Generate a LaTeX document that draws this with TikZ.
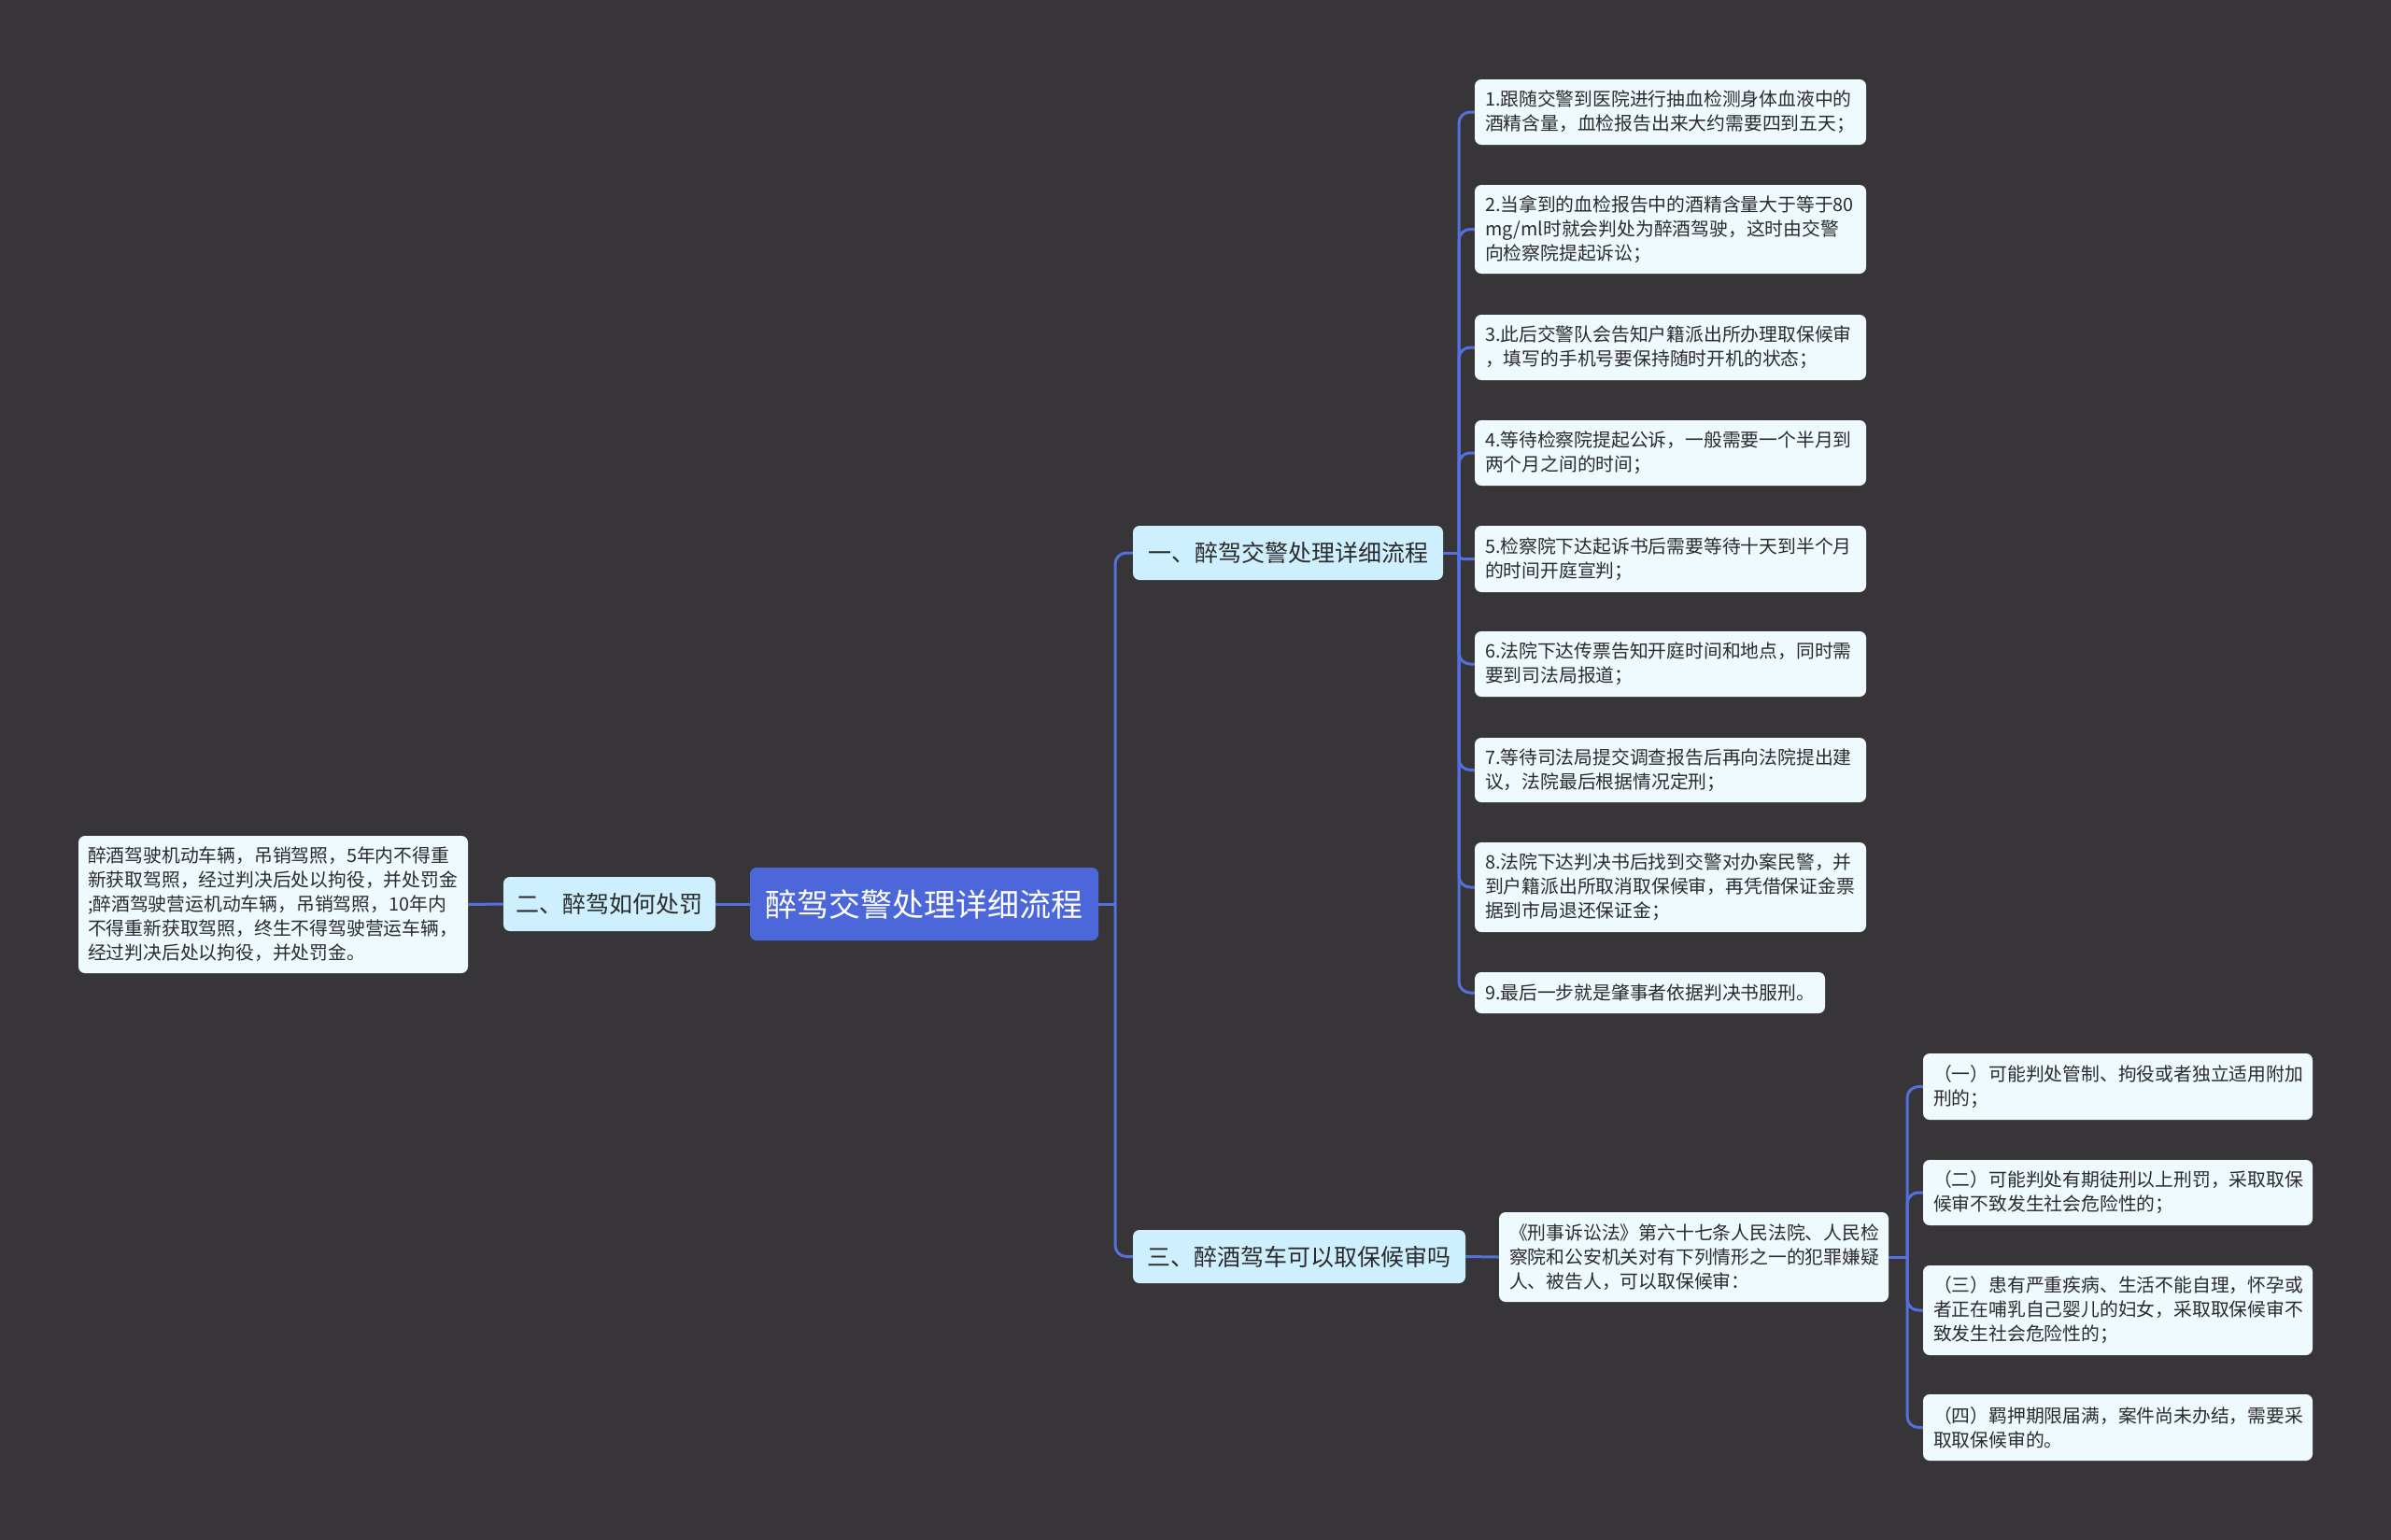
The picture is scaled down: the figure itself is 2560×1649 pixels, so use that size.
\documentclass[tikz,border=0pt]{standalone}
\usepackage{fontspec}
\newfontfamily\cjk{Noto Sans CJK SC}
\definecolor{bgc}{HTML}{373537}
\definecolor{linec}{HTML}{5470DE}
\definecolor{rootc}{HTML}{4C67DA}
\definecolor{branchc}{HTML}{CDEFFE}
\definecolor{leafc}{HTML}{EFFAFE}
\definecolor{txtc}{HTML}{2B2B2B}
\tikzset{
  conn/.style={draw=linec, line width=3pt},
  rootbox/.style={fill=rootc, rounded corners=7pt, text=white, inner sep=0pt,
    font=\cjk\fontsize{34}{40}\selectfont},
  branchbox/.style={fill=branchc, rounded corners=7pt, text=txtc, inner sep=0pt,
    font=\cjk\fontsize{25}{30}\selectfont},
  leafbox/.style={fill=leafc, rounded corners=7pt, text=txtc, inner xsep=11pt, inner ysep=0pt,
    align=left, font=\cjk\fontsize{19.8}{26}\selectfont},
}
\newcommand{\leafnode}[6]{% name, cx, cy, w, h, text
  \node[leafbox, minimum width=#4pt, minimum height=#5pt, text width=#4pt-20pt] (#1) at (#2,#3) {#6};}
\begin{document}
\begin{tikzpicture}[x=1pt, y=-1pt]
\useasboundingbox (0,0) rectangle (2560,1649);
\fill[bgc] (0,0) rectangle (2560,1649);

% root and branches
\node[rootbox, minimum width=373pt, minimum height=78pt] (root) at (989.5,968) {醉驾交警处理详细流程};
\node[branchbox, minimum width=227pt, minimum height=58pt] (b2) at (652.5,968) {二、醉驾如何处罚};
\node[branchbox, minimum width=332pt, minimum height=58pt] (b1) at (1379,592) {一、醉驾交警处理详细流程};
\node[branchbox, minimum width=356pt, minimum height=57pt] (b3) at (1391,1345.5) {三、醉酒驾车可以取保候审吗};

% left text
\node[leafbox, inner xsep=10pt, minimum width=415pt, minimum height=147pt, text width=397pt] (lt) at (292.5,968.5)
 {醉酒驾驶机动车辆，吊销驾照，5年内不得重\\新获取驾照，经过判决后处以拘役，并处罚金\\;醉酒驾驶营运机动车辆，吊销驾照，10年内\\不得重新获取驾照，终生不得驾驶营运车辆，\\经过判决后处以拘役，并处罚金。};

% leaves of branch 1
\leafnode{L1}{1788.5}{120}{417}{70}{1.跟随交警到医院进行抽血检测身体血液中的\\酒精含量，血检报告出来大约需要四到五天；}
\leafnode{L2}{1788.5}{245.5}{417}{95}{2.当拿到的血检报告中的酒精含量大于等于80\\mg/ml时就会判处为醉酒驾驶，这时由交警\\向检察院提起诉讼；}
\leafnode{L3}{1788.5}{372}{417}{70}{3.此后交警队会告知户籍派出所办理取保候审\\，填写的手机号要保持随时开机的状态；}
\leafnode{L4}{1788.5}{485}{417}{70}{4.等待检察院提起公诉，一般需要一个半月到\\两个月之间的时间；}
\leafnode{L5}{1788.5}{598.5}{417}{71}{5.检察院下达起诉书后需要等待十天到半个月\\的时间开庭宣判；}
\leafnode{L6}{1788.5}{711}{417}{70}{6.法院下达传票告知开庭时间和地点，同时需\\要到司法局报道；}
\leafnode{L7}{1788.5}{824.5}{417}{69}{7.等待司法局提交调查报告后再向法院提出建\\议，法院最后根据情况定刑；}
\leafnode{L8}{1788.5}{950}{417}{96}{8.法院下达判决书后找到交警对办案民警，并\\到户籍派出所取消取保候审，再凭借保证金票\\据到市局退还保证金；}
\leafnode{L9}{1766.5}{1063}{373}{44}{9.最后一步就是肇事者依据判决书服刑。}

% branch 3 child and sub-leaves
\leafnode{C3}{1813.5}{1346}{415}{96}{《刑事诉讼法》第六十七条人民法院、人民检\\察院和公安机关对有下列情形之一的犯罪嫌疑\\人、被告人，可以取保候审：}
\leafnode{S1}{2267.5}{1163.5}{415}{71}{（一）可能判处管制、拘役或者独立适用附加\\刑的；}
\leafnode{S2}{2267.5}{1277}{415}{70}{（二）可能判处有期徒刑以上刑罚，采取取保\\候审不致发生社会危险性的；}
\leafnode{S3}{2267.5}{1403}{415}{96}{（三）患有严重疾病、生活不能自理，怀孕或\\者正在哺乳自己婴儿的妇女，采取取保候审不\\致发生社会危险性的；}
\leafnode{S4}{2267.5}{1528.5}{415}{71}{（四）羁押期限届满，案件尚未办结，需要采\\取取保候审的。}

% junction coordinates
\coordinate (j0) at (1194,968);
\coordinate (j1) at (1562,592);
\coordinate (j3) at (2042,1346);

% connectors
\draw[conn] (root.west) -- (b2.east);
\draw[conn] (b2.west) -- (lt.east);
\draw[conn] (root.east) -- (j0);
\draw[conn, rounded corners=12pt] (j0) |- (b1.west);
\draw[conn, rounded corners=12pt] (j0) |- (b3.west);
\draw[conn] (b1.east) -- (j1);
\foreach \n in {L1,L2,L3,L4,L6,L7,L8,L9}{
  \draw[conn, rounded corners=12pt] (j1) |- (\n.west);
}
\draw[conn, rounded corners=4pt] (j1) |- (L5.west);
\draw[conn] (b3.east) -- (C3.west);
\draw[conn] (C3.east) -- (j3);
\foreach \n in {S1,S2,S3,S4}{
  \draw[conn, rounded corners=12pt] (j3) |- (\n.west);
}
\end{tikzpicture}
\end{document}
